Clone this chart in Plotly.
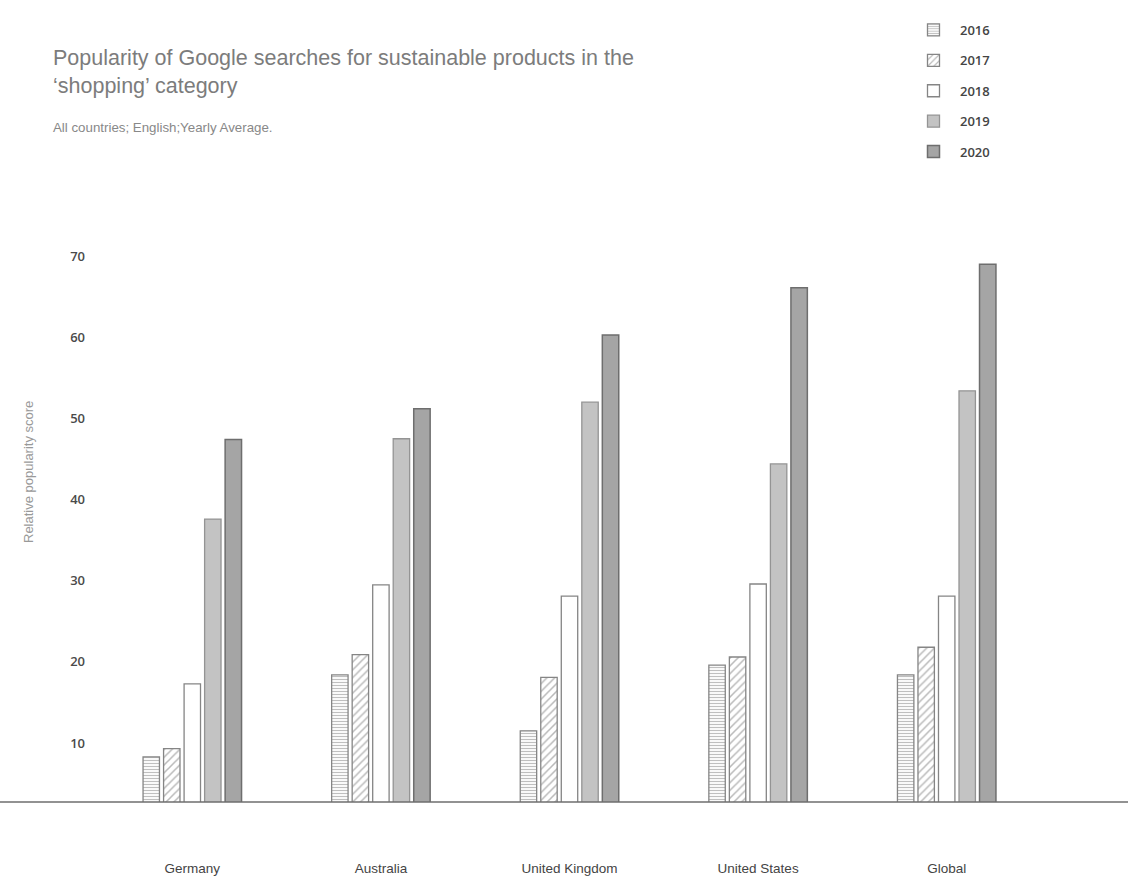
import plotly.graph_objects as go

countries = ["Germany", "Australia", "United Kingdom", "United States", "Global"]
years = ["2016", "2017", "2018", "2019", "2020"]
v2016 = [8.3, 18.4, 11.5, 19.6, 18.4]
v2017 = [9.3, 20.9, 18.1, 20.6, 21.8]
v2018 = [17.3, 29.5, 28.1, 29.6, 28.1]
v2019 = [37.6, 47.5, 52.0, 44.4, 53.4]
v2020 = [47.4, 51.2, 60.3, 66.1, 69.0]
y_ticks = [10, 20, 30, 40, 50, 60, 70]

W, H = 1128, 886
ML, MR, MT, MB = 98, 87, 240, 84
PW, PH = W - ML - MR, H - MT - MB


def px(x):
    return (x - ML) / PW


def py(y):
    return (H - MB - y) / PH


styles = [
    dict(color="white", line=dict(color="#858585", width=1.3),
         pattern=dict(shape="-", fgcolor="#808080", bgcolor="white", size=3, solidity=0.4)),
    dict(color="white", line=dict(color="#858585", width=1.3),
         pattern=dict(shape="/", fgcolor="#747474", bgcolor="white", size=5.5, solidity=0.28)),
    dict(color="white", line=dict(color="#858585", width=1.3)),
    dict(color="#c3c3c3", line=dict(color="#949494", width=1.3)),
    dict(color="#a5a5a5", line=dict(color="#6e6e6e", width=1.5)),
]

fig = go.Figure()
for yr, vals, st in zip(years, [v2016, v2017, v2018, v2019, v2020], styles):
    fig.add_trace(go.Bar(x=countries, y=vals, name=yr, marker=st,
                         legendgroup=yr, hoverinfo="x+y+name"))

fig.update_layout(
    width=W, height=H,
    margin=dict(l=ML, r=MR, t=MT, b=MB, autoexpand=False),
    paper_bgcolor="white", plot_bgcolor="white",
    barmode="group", bargap=0.456, bargroupgap=0.2,
    font=dict(family="Liberation Sans, Arial, sans-serif", color="#555"),
    showlegend=True,
    legend=dict(xref="container", yref="container", x=907 / W, y=1 - 15 / H,
                xanchor="left", yanchor="top", tracegroupgap=10.5, itemwidth=43,
                font=dict(family="Open Sans, sans-serif", size=13, color="#444", weight=600),
                bgcolor="rgba(0,0,0,0)"),
    xaxis=dict(type="category", range=[-0.5, 4.5], showline=False, showgrid=False,
               zeroline=False, ticks="", ticklabelstandoff=56, automargin=False,
               tickfont=dict(family="Liberation Sans, Arial, sans-serif", size=13.5, color="#444")),
    yaxis=dict(range=[2.73, 2.73 + PH / 8.114], tickvals=y_ticks, ticktext=[str(t) for t in y_ticks],
               showline=False, showgrid=False, zeroline=False, ticks="", automargin=False,
               ticklabelstandoff=12,
               tickfont=dict(family="Open Sans, sans-serif", size=13, color="#4a4a4a", weight=600)),
    shapes=[dict(type="line", xref="paper", yref="paper", x0=px(0), x1=px(W), y0=0, y1=0,
                 line=dict(color="#6e6e6e", width=1.5), layer="above")],
    annotations=[
        dict(xref="paper", yref="paper", x=px(51), y=py(44), xanchor="left", yanchor="top",
             align="left", showarrow=False,
             text="Popularity of Google searches for sustainable products in the<br>‘shopping’ category",
             font=dict(family="Liberation Sans, Arial, sans-serif", size=21.5, color="#7c7c7c")),
        dict(xref="paper", yref="paper", x=px(51), y=py(128), xanchor="left", yanchor="middle",
             align="left", showarrow=False, text="All countries; English;Yearly Average.",
             font=dict(family="Liberation Sans, Arial, sans-serif", size=13.3, color="#888")),
        dict(xref="paper", yref="paper", x=px(28), y=py(472), xanchor="center", yanchor="middle",
             textangle=-90, showarrow=False, text="Relative popularity score",
             font=dict(family="Liberation Sans, Arial, sans-serif", size=13, color="#999")),
    ],
)

fig.write_html("out.html", config={"displayModeBar": False},
               post_script="document.body.style.margin='0';")
